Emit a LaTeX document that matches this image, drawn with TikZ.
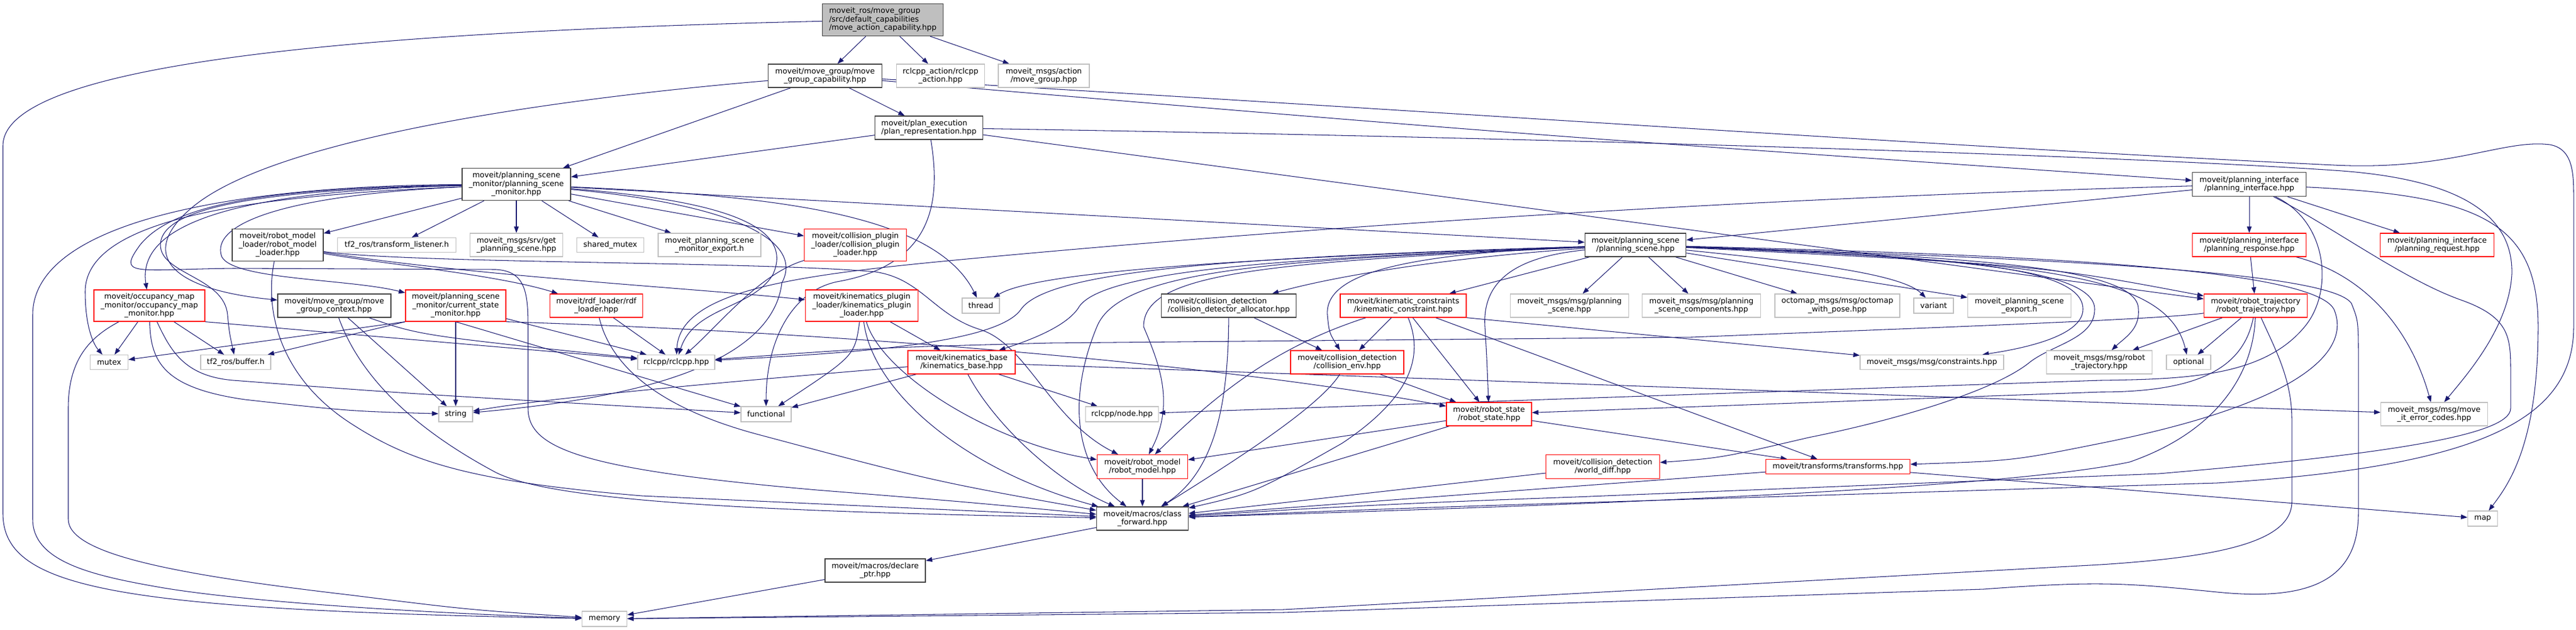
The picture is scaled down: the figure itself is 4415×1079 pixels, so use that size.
\documentclass[tikz,border=0pt]{standalone}
\usepackage{fontspec}
\setmainfont{DejaVu Sans}
\usetikzlibrary{arrows.meta,backgrounds}
\definecolor{eblue}{HTML}{191970}
\definecolor{dkgray}{HTML}{404040}
\definecolor{ltgray}{HTML}{BFBFBF}
\definecolor{rootfill}{HTML}{BFBFBF}
\definecolor{rdline}{HTML}{FF0000}
\begin{document}
\begin{tikzpicture}[x=1pt,y=-1pt,
  box/.style={rectangle,line width=1.2pt,inner sep=0pt,align=center,fill=white,font=\fontsize{13}{14.5}\selectfont},
  dk/.style={box,draw=dkgray,line width=1.4pt},
  lt/.style={box,draw=ltgray},
  rd/.style={box,draw=rdline},
  rt/.style={box,draw=dkgray,line width=1.4pt,fill=rootfill},
  sz/.style 2 args={minimum width=#1pt,minimum height=#2pt},
  edge/.style={draw=eblue,line width=1.05pt,-{Triangle[length=11pt,width=8pt]}}]
\useasboundingbox (0,0) rectangle (4415,1079);
% ---------- nodes ----------
\node[rt,sz={207}{55},align=left] (R) at (1513,34) {moveit\_ros/move\_group\\/src/default\_capabilities\\/move\_action\_capability.hpp};
\node[dk,sz={195}{40}] (mgc) at (1414,130) {moveit/move\_group/move\\\_group\_capability.hpp};
\node[lt,sz={151}{40}] (ract) at (1612,130) {rclcpp\_action/rclcpp\\\_action.hpp};
\node[lt,sz={156}{40}] (mgact) at (1789,130) {moveit\_msgs/action\\/move\_group.hpp};
\node[dk,sz={185}{40},align=left] (planrep) at (1592,219) {moveit/plan\_execution\\/plan\_representation.hpp};
\node[dk,sz={186}{55}] (psm) at (885,316) {moveit/planning\_scene\\\_monitor/planning\_scene\\\_monitor.hpp};
\node[dk,sz={195}{41}] (pi) at (3855,316) {moveit/planning\_interface\\/planning\_interface.hpp};
\node[dk,sz={173}{40}] (ps) at (2803,420) {moveit/planning\_scene\\/planning\_scene.hpp};
\node[dk,sz={156}{55}] (rml) at (476,420) {moveit/robot\_model\\\_loader/robot\_model\\\_loader.hpp};
\node[lt,sz={203}{25}] (tf2tl) at (680,420) {tf2\_ros/transform\_listener.h};
\node[lt,sz={159}{40}] (getps) at (885,420) {moveit\_msgs/srv/get\\\_planning\_scene.hpp};
\node[lt,sz={115}{25}] (shmutex) at (1046,420) {shared\_mutex};
\node[lt,sz={176}{40}] (psmexport) at (1216,420) {moveit\_planning\_scene\\\_monitor\_export.h};
\node[rd,sz={175}{55}] (cpl) at (1466,420) {moveit/collision\_plugin\\\_loader/collision\_plugin\\\_loader.hpp};
\node[rd,sz={195}{40}] (presp) at (3855,420) {moveit/planning\_interface\\/planning\_response.hpp};
\node[rd,sz={195}{40}] (preq) at (4177,420) {moveit/planning\_interface\\/planning\_request.hpp};
\node[rd,sz={190}{54}] (occ) at (256,524) {moveit/occupancy\_map\\\_monitor/occupancy\_map\\\_monitor.hpp};
\node[dk,sz={194}{40}] (mgctx) at (573,524) {moveit/move\_group/move\\\_group\_context.hpp};
\node[rd,sz={172}{54}] (csm) at (781,524) {moveit/planning\_scene\\\_monitor/current\_state\\\_monitor.hpp};
\node[rd,sz={159}{40}] (rdf) at (1022,524) {moveit/rdf\_loader/rdf\\\_loader.hpp};
\node[rd,sz={193}{54}] (kpl) at (1477,524) {moveit/kinematics\_plugin\\\_loader/kinematics\_plugin\\\_loader.hpp};
\node[lt,sz={64}{26}] (thread) at (1681,524) {thread};
\node[dk,sz={231}{40},align=left] (cda) at (2106,524) {moveit/collision\_detection\\/collision\_detector\_allocator.hpp};
\node[rd,sz={216}{40}] (kc) at (2405,524) {moveit/kinematic\_constraints\\/kinematic\_constraint.hpp};
\node[lt,sz={203}{40}] (msgps) at (2690,524) {moveit\_msgs/msg/planning\\\_scene.hpp};
\node[lt,sz={203}{40}] (msgpsc) at (2916,524) {moveit\_msgs/msg/planning\\\_scene\_components.hpp};
\node[lt,sz={214}{40}] (octomap) at (3149,524) {octomap\_msgs/msg/octomap\\\_with\_pose.hpp};
\node[lt,sz={68}{26}] (variant) at (3314,524) {variant};
\node[lt,sz={177}{40}] (psexport) at (3461,524) {moveit\_planning\_scene\\\_export.h};
\node[rd,sz={177}{40}] (rtraj) at (3866,524) {moveit/robot\_trajectory\\/robot\_trajectory.hpp};
\node[lt,sz={65}{25}] (mutex) at (187,621) {mutex};
\node[lt,sz={120}{25}] (tf2buf) at (404,621) {tf2\_ros/buffer.h};
\node[lt,sz={132}{25}] (rclcpp) at (1159,621) {rclcpp/rclcpp.hpp};
\node[rd,sz={184}{40}] (kbase) at (1648,621) {moveit/kinematics\_base\\/kinematics\_base.hpp};
\node[rd,sz={194}{40}] (cenv) at (2309,621) {moveit/collision\_detection\\/collision\_env.hpp};
\node[lt,sz={246}{25}] (constraints) at (3311,621) {moveit\_msgs/msg/constraints.hpp};
\node[lt,sz={181}{40}] (msgrtraj) at (3598,621) {moveit\_msgs/msg/robot\\\_trajectory.hpp};
\node[lt,sz={76}{25}] (optional) at (3751,621) {optional};
\node[lt,sz={58}{26}] (string) at (781,710) {string};
\node[lt,sz={86}{26}] (functional) at (1313,710) {functional};
\node[lt,sz={125}{26}] (rnode) at (1923,710) {rclcpp/node.hpp};
\node[rd,sz={146}{40}] (rstate) at (2552,710) {moveit/robot\_state\\/robot\_state.hpp};
\node[lt,sz={183}{40}] (errcodes) at (4172,710) {moveit\_msgs/msg/move\\\_it\_error\_codes.hpp};
\node[rd,sz={155}{41}] (rmodel) at (1958,800) {moveit/robot\_model\\/robot\_model.hpp};
\node[rd,sz={195}{41}] (wdiff) at (2747,800) {moveit/collision\_detection\\/world\_diff.hpp};
\node[rd,sz={247}{25}] (transforms) at (3150,800) {moveit/transforms/transforms.hpp};
\node[dk,sz={157}{40}] (cfwd) at (1958,889) {moveit/macros/class\\\_forward.hpp};
\node[lt,sz={51}{26}] (map) at (4255,889) {map};
\node[dk,sz={172}{40}] (declptr) at (1500,978) {moveit/macros/declare\\\_ptr.hpp};
\node[lt,sz={77}{26}] (memory) at (1036,1061) {memory};
% ---------- edges ----------
\begin{scope}[on background layer]
\draw[edge] (R) -- (mgc);
\draw[edge] (R) -- (ract);
\draw[edge] (R) -- (mgact);
\draw[edge] (R) .. controls (600,55) and (5,110) .. (5,250) -- (5,880) .. controls (5,1010) and (200,1045) .. (memory);
% mgc
\draw[edge] (mgc) -- (psm);
\draw[edge] (mgc) -- (planrep);
\draw[edge] (mgc) .. controls (1000,165) and (480,230) .. (330,355) .. controls (240,430) and (280,495) .. (mgctx);
\draw[edge] (mgc) .. controls (2600,230) .. (pi);
\draw[edge] (mgc) .. controls (2300,180) and (3300,250) .. (4000,283) .. controls (4200,293) and (4290,238) .. (4370,248) .. controls (4411,255) and (4411,300) .. (4411,340) -- (4411,560) .. controls (4411,720) and (4250,800) .. (3800,828) -- (2700,862) .. controls (2300,874) and (2150,882) .. (cfwd);
% planrep
\draw[edge] (planrep) -- (psm);
\draw[edge] (planrep) -- (rtraj);
\draw[edge] (planrep) .. controls (2600,235) and (3600,265) .. (4000,292) .. controls (4200,305) and (4308,360) .. (4305,470) .. controls (4300,560) and (4230,640) .. (errcodes);
\draw[edge] (planrep) .. controls (1610,330) and (1610,450) .. (1440,482) .. controls (1360,495) and (1313,580) .. (functional);
% psm
\draw[edge] (psm) -- (rml);
\draw[edge] (psm) -- (tf2tl);
\draw[edge] (psm) -- (getps);
\draw[edge] (psm) -- (shmutex);
\draw[edge] (psm) -- (psmexport);
\draw[edge] (psm) -- (cpl);
\draw[edge] (psm) .. controls (500,325) and (230,360) .. (occ);
\draw[edge] (psm) .. controls (480,335) and (360,385) .. (380,440) .. controls (400,480) and (600,478) .. (csm);
\draw[edge] (psm) .. controls (450,335) and (146,370) .. (146,500) .. controls (146,560) and (160,590) .. (mutex);
\draw[edge] (psm) .. controls (450,325) and (275,355) .. (275,420) .. controls (275,470) and (385,475) .. (390,540) .. controls (393,570) .. (tf2buf);
\draw[edge] (psm) .. controls (1300,335) and (1600,360) .. (thread);
\draw[edge] (psm) -- (ps);
\draw[edge] (psm) .. controls (400,318) and (56,380) .. (56,540) -- (56,890) .. controls (56,960) and (150,985) .. (264,1005) .. controls (400,1030) and (700,1050) .. (memory);
\draw[edge] (psm) .. controls (480,322) and (300,345) .. (240,420) .. controls (200,475) and (230,462) .. (400,460) -- (850,462) .. controls (900,465) and (905,500) .. (905,560) -- (905,700) .. controls (905,770) and (1000,805) .. (1400,840) .. controls (1650,860) .. (cfwd);
\draw[edge] (psm) .. controls (1250,345) and (1360,390) .. (1325,470) .. controls (1290,530) and (1190,525) .. (rclcpp);
\draw[edge] (psm) .. controls (1250,350) and (1380,410) .. (1340,485) .. controls (1320,650) and (1000,690) .. (string);
% pi
\draw[edge] (pi) -- (presp);
\draw[edge] (pi) -- (preq);
\draw[edge] (pi) -- (ps);
\draw[edge] (pi) .. controls (4250,335) and (4350,380) .. (4350,560) .. controls (4350,760) and (4300,830) .. (map);
\draw[edge] (pi) .. controls (3990,380) and (4000,500) .. (3950,560) .. controls (3880,645) and (3750,650) .. (3600,652) -- (rnode);
\draw[edge] (pi) .. controls (4000,390) and (4120,480) .. (4220,515) .. controls (4303,545) and (4303,580) .. (4303,640) -- (4303,700) .. controls (4303,745) and (4100,778) .. (3700,812) -- (2700,852) .. controls (2300,866) and (2150,878) .. (cfwd);
\draw[edge] (pi) .. controls (3000,340) and (2300,385) .. (1700,440) .. controls (1400,468) and (1165,490) .. (rclcpp);
% presp
\draw[edge] (presp) -- (rtraj);
\draw[edge] (presp) .. controls (4050,470) and (4130,560) .. (errcodes);
% ps
\draw[edge] (ps) .. controls (2300,440) and (1900,455) .. (1850,525) .. controls (1830,560) and (1760,585) .. (kbase);
\draw[edge] (ps) .. controls (2200,440) and (1780,462) .. (thread);
\draw[edge] (ps) .. controls (2150,440) and (1800,460) .. (1750,530) .. controls (1710,590) and (1450,606) .. (rclcpp);
\draw[edge] (ps) .. controls (2150,450) and (1960,470) .. (1960,560) .. controls (1985,620) and (2015,690) .. (rmodel);
\draw[edge] (ps) .. controls (2500,440) and (2300,470) .. (cda);
\draw[edge] (ps) .. controls (2400,435) and (2270,470) .. (2275,540) .. controls (2278,570) .. (cenv);
\draw[edge] (ps) -- (kc);
\draw[edge] (ps) -- (msgps);
\draw[edge] (ps) -- (msgpsc);
\draw[edge] (ps) -- (octomap);
\draw[edge] (ps) .. controls (3100,450) and (3260,470) .. (variant);
\draw[edge] (ps) -- (psexport);
\draw[edge] (ps) .. controls (2600,440) and (2540,480) .. (2545,560) .. controls (2548,610) .. (rstate);
\draw[edge] (ps) .. controls (3300,440) and (3570,450) .. (3570,530) .. controls (3570,580) and (3450,600) .. (constraints);
\draw[edge] (ps) .. controls (3300,440) and (3590,455) .. (3590,530) .. controls (3590,580) and (3520,590) .. (3480,620) .. controls (3420,670) and (3250,720) .. (3100,750) .. controls (2950,785) .. (wdiff);
\draw[edge] (ps) .. controls (3400,440) and (3665,460) .. (3665,530) .. controls (3668,565) and (3640,580) .. (msgrtraj);
\draw[edge] (ps) .. controls (3500,455) .. (rtraj);
\draw[edge] (ps) .. controls (3500,448) and (3715,470) .. (optional);
\draw[edge] (ps) .. controls (3400,435) and (3960,455) .. (4000,530) .. controls (4030,600) and (3950,690) .. (3600,760) .. controls (3450,790) .. (transforms);
\draw[edge] (ps) .. controls (3400,440) and (3990,460) .. (4030,520) .. controls (4042,550) .. (4042,620) -- (4042,880) .. controls (4042,1000) and (3950,1030) .. (3800,1015) .. controls (3650,1000) and (3600,995) .. (3400,1010) -- (2200,1050) -- (memory);
\draw[edge] (ps) .. controls (2200,445) and (1920,460) .. (1880,560) .. controls (1830,680) and (1840,800) .. (cfwd);
% rml
\draw[edge] (rml) .. controls (650,452) and (850,470) .. (rdf);
\draw[edge] (rml) .. controls (800,472) and (1200,495) .. (kpl);
\draw[edge] (rml) .. controls (700,452) and (1300,448) .. (1500,466) .. controls (1580,478) and (1600,540) .. (1680,565) .. controls (1760,590) and (1800,720) .. (rmodel);
\draw[edge] (rml) .. controls (455,520) and (470,640) .. (600,725) .. controls (700,790) and (800,825) .. (1100,850) -- (cfwd);
% occ
\draw[edge] (occ) -- (mutex);
\draw[edge] (occ) -- (tf2buf);
\draw[edge] (occ) .. controls (258,620) and (280,665) .. (420,685) .. controls (600,705) .. (string);
\draw[edge] (occ) .. controls (292,600) and (315,645) .. (400,652) .. controls (700,675) .. (functional);
\draw[edge] (occ.south east) -- (rclcpp);
\draw[edge] (occ) .. controls (150,580) and (117,620) .. (117,700) -- (117,890) .. controls (117,950) and (300,985) .. (600,1020) .. controls (800,1045) .. (memory);
% mgctx
\draw[edge] (mgctx) .. controls (720,575) .. (rclcpp);
\draw[edge] (mgctx) -- (string);
\draw[edge] (mgctx) .. controls (615,640) and (700,730) .. (850,810) .. controls (950,860) and (1300,877) .. (cfwd);
% csm
\draw[edge] (csm.south west) -- (mutex);
\draw[edge] (csm.south west) -- (tf2buf);
\draw[edge] (csm) -- (rclcpp);
\draw[edge] (csm) -- (string);
\draw[edge] (csm.south) -- (functional);
\draw[edge] (csm.south east) .. controls (1450,570) and (2100,625) .. (rstate);
% rdf, cpl
\draw[edge] (rdf) -- (rclcpp);
\draw[edge] (rdf) .. controls (1050,640) and (1150,705) .. (1300,745) .. controls (1600,825) .. (cfwd);
\draw[edge] (cpl) .. controls (1300,470) and (1230,560) .. (rclcpp);
% kpl
\draw[edge] (kpl) -- (kbase);
\draw[edge] (kpl) .. controls (1510,640) and (1700,760) .. (rmodel);
\draw[edge] (kpl) .. controls (1495,670) and (1650,805) .. (cfwd);
\draw[edge] (kpl) .. controls (1465,610) .. (functional);
% kbase
\draw[edge] (kbase) -- (rnode);
\draw[edge] (kbase) .. controls (1700,720) and (1800,820) .. (cfwd);
\draw[edge] (kbase) .. controls (1300,650) and (950,680) .. (string);
\draw[edge] (kbase) -- (functional);
\draw[edge] (kbase) -- (errcodes);
% cda
\draw[edge] (cda) -- (cenv);
\draw[edge] (cda) .. controls (2105,700) and (2080,810) .. (cfwd);
% kc
\draw[edge] (kc) -- (cenv);
\draw[edge] (kc) -- (rstate);
\draw[edge] (kc) -- (transforms);
\draw[edge] (kc.south east) -- (constraints);
\draw[edge] (kc) .. controls (2440,610) and (2420,680) .. (2300,760) .. controls (2150,845) .. (cfwd);
\draw[edge] (kc) .. controls (2200,590) and (2100,660) .. (rmodel);
% cenv
\draw[edge] (cenv) -- (rstate);
\draw[edge] (cenv) .. controls (2260,700) and (2100,800) .. (cfwd);
% rstate
\draw[edge] (rstate) -- (rmodel);
\draw[edge] (rstate) -- (transforms);
\draw[edge] (rstate) -- (cfwd);
% wdiff, transforms
\draw[edge] (wdiff) -- (cfwd);
\draw[edge] (transforms) -- (cfwd);
\draw[edge] (transforms) -- (map);
% rtraj
\draw[edge] (rtraj) -- (msgrtraj);
\draw[edge] (rtraj) -- (optional);
\draw[edge] (rtraj) .. controls (3900,600) and (3928,650) .. (3928,720) -- (3928,860) .. controls (3928,930) and (3800,955) .. (3600,968) -- (2200,1045) -- (memory);
\draw[edge] (rtraj) .. controls (3862,640) and (3800,740) .. (3650,792) .. controls (3400,845) and (2500,872) .. (cfwd);
\draw[edge] (rtraj) .. controls (3845,630) and (3770,672) .. (3600,672) -- (rstate);
\draw[edge] (rtraj) .. controls (3700,548) and (3300,562) .. (2900,578) -- (1800,588) .. controls (1500,596) .. (rclcpp);
% bottom
\draw[edge] (rmodel) -- (cfwd);
\draw[edge] (cfwd) -- (declptr);
\draw[edge] (declptr) -- (memory);
\end{scope}
\end{tikzpicture}
\end{document}
